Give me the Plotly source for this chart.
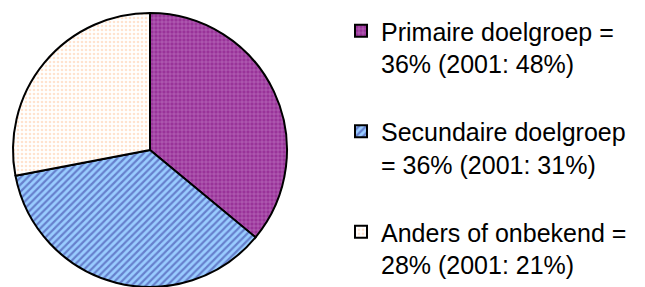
import plotly.graph_objects as go

categories = ["Primaire doelgroep =<br>36% (2001: 48%)",
              "Secundaire doelgroep<br>= 36% (2001: 31%)",
              "Anders of onbekend =<br>28% (2001: 21%)"]
values = [36, 36, 28]

bg_colors = ["#993399", "#99CCFF", "#FFFFFF"]
fg_colors = ["#E8C8F0", "#333399", "#FFC8A0"]
shapes = ["+", "/", "."]
sizes = [4, 5, 4]
solidity = [0.25, 0.45, 0.35]

W, H = 645, 287

# blank spacer line after every entry except the last
legend_labels = [c + ("<br> " if i < len(categories) - 1 else "")
                 for i, c in enumerate(categories)]

fig = go.Figure(go.Pie(
    labels=legend_labels,
    values=values,
    sort=False,
    direction="clockwise",
    rotation=0,
    textinfo="none",
    hoverinfo="label+percent",
    marker=dict(
        colors=bg_colors,
        line=dict(color="black", width=2),
        pattern=dict(shape=shapes, fgcolor=fg_colors, bgcolor=bg_colors,
                     size=sizes, solidity=solidity, fillmode="overlay"),
    ),
    domain=dict(x=[10 / W, 290 / W], y=[0, 1 - 13 / H]),
))

fig.update_layout(
    width=W, height=H,
    margin=dict(l=0, r=0, t=0, b=0, autoexpand=False),
    paper_bgcolor="white",
    plot_bgcolor="white",
    font=dict(family="Liberation Sans, Arial, sans-serif", size=25, color="black"),
    showlegend=True,
    legend=dict(
        xref="paper", yref="paper",
        x=341 / W, xanchor="left",
        y=1 - 8 / H, yanchor="top",
        valign="top",
        bgcolor="rgba(0,0,0,0)",
        font=dict(size=25, color="black"),
        itemclick=False, itemdoubleclick=False,
    ),
)

fig.write_html("out.html",
               config={"displayModeBar": False},
               post_script="document.body.style.margin='0';document.body.style.overflow='hidden';")
